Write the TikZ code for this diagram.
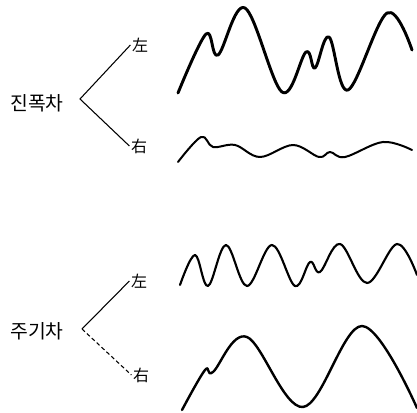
\documentclass[tikz,border=0pt]{standalone}
\usepackage{fontspec}
\newfontfamily\kr{Noto Sans CJK KR}[Scale=1.0]
\usetikzlibrary{positioning}

\begin{document}
\begin{tikzpicture}[x=0.75pt, y=-0.75pt,
      lbl/.style={font=\kr\fontsize{14.5}{15}\selectfont, inner sep=1pt},
      side/.style={font=\kr\fontsize{12}{12}\selectfont, inner sep=1pt},
      br/.style={line width=0.8pt},
      wave/.style={line width=1.8pt, line cap=round, line join=round}]
    \useasboundingbox (0,0) rectangle (417,413);
    % amplitude difference
    \node[lbl] (amp) at (37,103) {진폭차};
    \coordinate (ampv) at (80,99);
    \node[side] (ampl) at (140,45) {左};
    \node[side] (ampr) at (139,146) {右};
    \draw[br] (ampl.west) -- (ampv) -- (ampr.west);
    % period difference
    \node[lbl] (per) at (37,331) {주기차};
    \coordinate (perv) at (82,329);
    \node[side] (perl) at (139,281) {左};
    \node[side] (perr) at (141,375) {右};
    \draw[br] (perl.west) -- (perv);
    \draw[br, densely dashed] (perv) -- (perr.west);
    % waves
    \draw[wave, line width=2.2pt] plot[smooth, tension=0.6] coordinates {(178,93) (206,34) (218,55) (245,8) (282,92) (306,52) (315,68) (329,37) (348,90) (387,13) (412,50)};
    \draw[wave, line width=1.5pt] plot[smooth, tension=0.6] coordinates {(178,162) (201,137) (213,147) (235,145) (260,157) (293,145) (319,157) (330,152) (345,157) (383,142) (412,150)};
    \draw[wave, line width=1.6pt] plot[smooth, tension=0.6] coordinates {(180,285) (195,255) (208,286) (226,245) (247,286) (272,245) (295,286) (310,262) (320,272) (340,244) (367,283) (397,244) (417,275)};
    \draw[wave] plot[smooth, tension=0.6] coordinates {(182,410) (205,370) (213,372) (247,337) (303,407) (362,326) (417,408)};
\end{tikzpicture}
\end{document}
